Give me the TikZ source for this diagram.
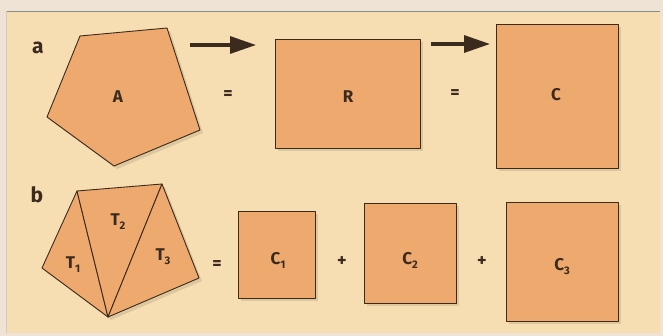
\documentclass[tikz,border=0pt]{standalone}
\usepackage{fontspec}
\setmainfont{Fira Sans}
\usetikzlibrary{arrows.meta}
\definecolor{outerbg}{HTML}{EFE3D6}
\definecolor{panelbg}{HTML}{F6DEB2}
\definecolor{shapefill}{HTML}{EEA96E}
\definecolor{edge}{HTML}{3B2A1E}
\tikzset{
  orangeshape/.style={fill=shapefill, draw=edge, line width=0.9pt, line join=round},
  softshadow/.style={fill=black, opacity=0.10},
  lbl/.style={font=\fontsize{17}{17}\selectfont\bfseries, text=edge, inner sep=0pt},
  part/.style={font=\fontsize{21}{21}\selectfont\bfseries, text=edge, inner sep=0pt},
  op/.style={font=\fontsize{18}{18}\selectfont\bfseries, text=edge, inner sep=0pt},
  bigarrow/.style={draw=edge, line width=3.2pt, -{Triangle[length=26pt,width=17pt]}},
}
\newcommand{\sub}[1]{\raisebox{-0.45ex}{\fontsize{11}{11}\selectfont #1}}
\begin{document}
\begin{tikzpicture}[x=1pt,y=-1pt]
\useasboundingbox (0,0) rectangle (663,336);
\fill[outerbg] (0,0) rectangle (663,336);
\fill[panelbg] (6,11) rectangle (660,333);
\draw[black!45, line width=0.8pt] (6,11) -- (660,11);
\draw[black!20, line width=0.6pt] (6,11) -- (6,333);

% row a
\node[part] (la) at (38,48) {a};
\coordinate (p1) at (80,36);
\coordinate (p2) at (167,28);
\coordinate (p3) at (200,130);
\coordinate (p4) at (114,166);
\coordinate (p5) at (47,117);
\fill[softshadow] ([shift={(3,3)}]p1) -- ([shift={(3,3)}]p2) -- ([shift={(3,3)}]p3) -- ([shift={(3,3)}]p4) -- ([shift={(3,3)}]p5) -- cycle;
\draw[orangeshape] (p1) -- (p2) -- (p3) -- (p4) -- (p5) -- cycle;
\node[lbl] (A) at (118,97) {A};

\coordinate (a1s) at (190,45);
\coordinate (a1e) at (256,45);
\draw[bigarrow] (a1s) -- (a1e);
\node[op] (eq1) at (228,95) {=};

\fill[softshadow] (278,42) rectangle (423,151);
\draw[orangeshape] (275,39) rectangle (420,148);
\node[lbl] (R) at (348,97) {R};

\coordinate (a2s) at (431,44);
\coordinate (a2e) at (490,44);
\draw[bigarrow] (a2s) -- (a2e);
\node[op] (eq2) at (455,94) {=};

\fill[softshadow] (499,27) rectangle (621,171);
\draw[orangeshape] (496,24) rectangle (618,168);
\node[lbl] (C) at (556,95) {C};

% row b
\node[part] (lb) at (37,195) {b};
\coordinate (tl) at (77,191);
\coordinate (tr) at (162,184);
\coordinate (le) at (42,268);
\coordinate (bo) at (108,317);
\coordinate (ri) at (199,278);
\fill[softshadow] ([shift={(3,3)}]tl) -- ([shift={(3,3)}]tr) -- ([shift={(3,3)}]ri) -- ([shift={(3,3)}]bo) -- ([shift={(3,3)}]le) -- cycle;
\draw[orangeshape] (le) -- (tl) -- (bo) -- cycle;
\draw[orangeshape] (tl) -- (tr) -- (bo) -- cycle;
\draw[orangeshape] (tr) -- (ri) -- (bo) -- cycle;
\node[lbl] (T1) at (73,265) {T\sub{1}};
\node[lbl] (T2) at (118,222) {T\sub{2}};
\node[lbl] (T3) at (163,257) {T\sub{3}};

\node[op] (eq3) at (217,265) {=};

\fill[softshadow] (241,214) rectangle (318,301);
\draw[orangeshape] (238,211) rectangle (315,298);
\node[lbl] (C1) at (278,260) {C\sub{1}};

\node[op] (plus1) at (342,262) {+};

\fill[softshadow] (367,206) rectangle (459,306);
\draw[orangeshape] (364,203) rectangle (456,303);
\node[lbl] (C2) at (410,260) {C\sub{2}};

\node[op] (plus2) at (482,262) {+};

\fill[softshadow] (509,205) rectangle (621,324);
\draw[orangeshape] (506,202) rectangle (618,321);
\node[lbl] (C3) at (562,267) {C\sub{3}};
\end{tikzpicture}
\end{document}
